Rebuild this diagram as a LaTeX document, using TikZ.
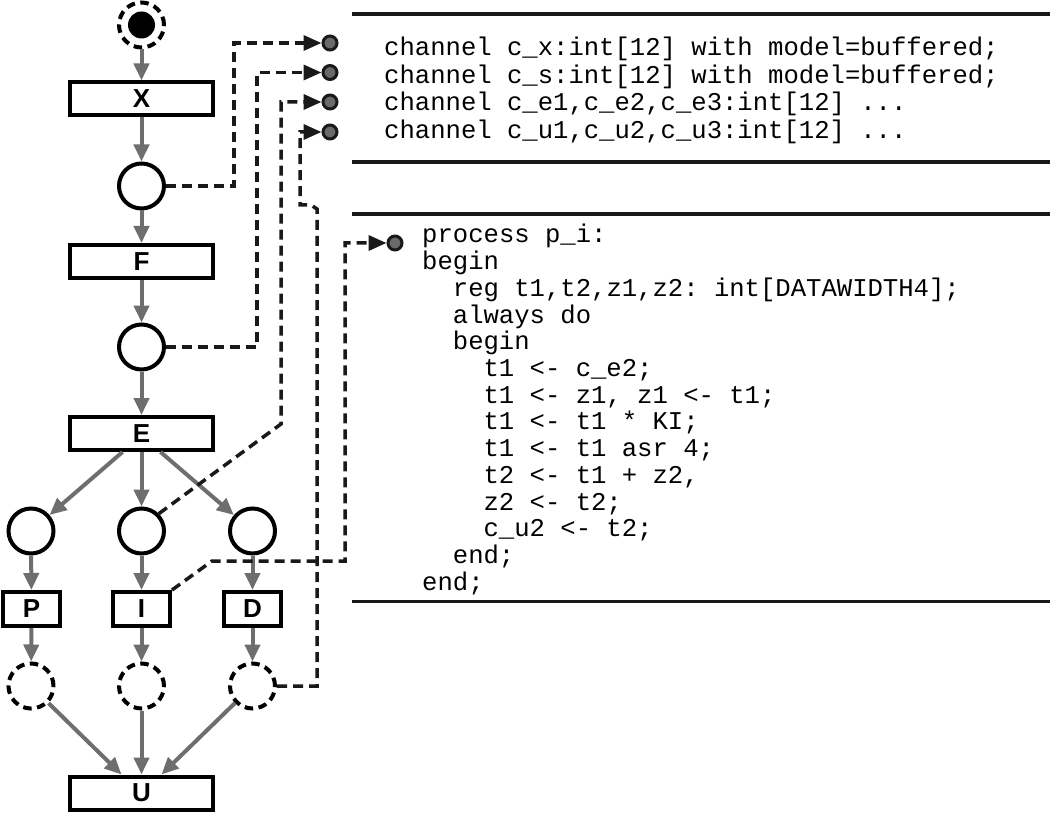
\documentclass[tikz,border=0pt]{standalone}
\usepackage{fontspec}
\setsansfont{Liberation Sans}
\setmonofont{Liberation Mono}
\usetikzlibrary{arrows.meta}
\definecolor{arrgray}{HTML}{6E6E6E}
\definecolor{dotgray}{HTML}{6A6A6A}
\tikzset{
  box/.style={draw, line width=4pt, minimum width=143pt, minimum height=33pt, inner sep=0pt,
    font=\sffamily\bfseries\fontsize{26}{26}\selectfont},
  sbox/.style={box, minimum width=57pt, minimum height=34pt},
  place/.style={circle, draw, line width=4pt, minimum size=45pt, inner sep=0pt},
  dplace/.style={place, dash pattern=on 8.5pt off 5.5pt},
  flow/.style={draw=arrgray, line width=4pt, -{Triangle[length=17pt,width=15pt]}},
  dcon/.style={draw=black!90, line width=3.5pt, dash pattern=on 10pt off 6pt, -{Triangle[length=18pt,width=15pt]}},
  port/.style={circle, draw=black!90, fill=dotgray, line width=3pt, minimum size=14pt, inner sep=0pt},
  code/.style={anchor=base west, inner sep=0pt, font=\ttfamily\fontsize{25.6}{26.7}\selectfont},
  rulebar/.style={draw=black!90, line width=3.5pt}
}
\begin{document}
\begin{tikzpicture}[x=1pt,y=-1pt]
\useasboundingbox (0,0) rectangle (1050,813);

% rules
\coordinate (r1a) at (352,14);  \coordinate (r1b) at (1050,14);
\coordinate (r2a) at (352,162); \coordinate (r2b) at (1050,162);
\coordinate (r3a) at (352,214); \coordinate (r3b) at (1050,214);
\coordinate (r4a) at (352,601); \coordinate (r4b) at (1050,601);
\draw[rulebar] (r1a) -- (r1b);
\draw[rulebar] (r2a) -- (r2b);
\draw[rulebar] (r3a) -- (r3b);
\draw[rulebar, line width=3pt] (r4a) -- (r4b);

% left net
\node[dplace] (start) at (141.5,25) {};
\node[circle, fill=black, minimum size=27pt, inner sep=0pt] (startdot) at (start.center) {};
\node[box] (X) at (141.5,99) {X};
\node[place] (c1) at (141.5,186) {};
\node[box] (F) at (141.5,261.5) {F};
\node[place] (c2) at (141.5,347) {};
\node[box] (E) at (141.5,433.5) {E};
\node[place] (cl) at (31,531) {};
\node[place] (cm) at (141.5,531) {};
\node[place] (cr) at (252.5,531) {};
\node[sbox] (P) at (31.5,609) {P};
\node[sbox] (I) at (141.5,609) {I};
\node[sbox] (D) at (252.5,609) {D};
\node[dplace] (dl) at (31,686) {};
\node[dplace] (dm) at (141.5,686) {};
\node[dplace] (dr) at (252.5,686) {};
\node[box] (U) at (141.5,793) {U};

\draw[flow] (start) -- (X);
\draw[flow] (X) -- (c1);
\draw[flow] (c1) -- (F);
\draw[flow] (F) -- (c2);
\draw[flow] (c2) -- (E);
\draw[flow] ([xshift=-19pt]E.south) -- (cl);
\draw[flow] (E) -- (cm);
\draw[flow] ([xshift=19pt]E.south) -- (cr);
\draw[flow] (cl) -- (P);
\draw[flow] (cm) -- (I);
\draw[flow] (cr) -- (D);
\draw[flow] (P) -- (dl);
\draw[flow] (I) -- (dm);
\draw[flow] (D) -- (dr);
\draw[flow] (dl) -- ([xshift=-20pt]U.north);
\draw[flow] (dm) -- (U);
\draw[flow] (dr) -- ([xshift=20pt]U.north);

% ports
\node[port] (d1) at (330,43) {};
\node[port] (d2) at (330,72.5) {};
\node[port] (d3) at (330,102) {};
\node[port] (d4) at (330,132) {};
\node[port] (d5) at (395,243) {};

% dashed connectors
\coordinate (j1) at (234,43);
\coordinate (j2) at (257,72.5);
\coordinate (j3a) at (281,424);
\coordinate (j3b) at (281,102);
\coordinate (j4a) at (317,209);
\coordinate (j4b) at (311,205);
\coordinate (j4c) at (300,205);
\coordinate (j4d) at (300,132);
\coordinate (j5a) at (212,561);
\coordinate (j5b) at (345,243);
\draw[dcon] (c1.east) -| (j1) -- (d1);
\draw[dcon] (c2.east) -| (j2) -- (d2);
\draw[dcon] (cm.north east) -- (j3a) -- (j3b) -- (d3);
\draw[dcon] (dr.east) -| (j4a) -- (j4b) -- (j4c) -- (j4d) -- (d4);
\draw[dcon] (I.north east) -- (j5a) -| (j5b) -- (d5);

% channel declarations
\node[code] (ch1) at (384,56) {channel c\_x:int[12] with model=buffered;};
\node[code] (ch2) at (384,83.4) {channel c\_s:int[12] with model=buffered;};
\node[code] (ch3) at (384,110.8) {channel c\_e1,c\_e2,c\_e3:int[12] ...};
\node[code] (ch4) at (384,138.2) {channel c\_u1,c\_u2,c\_u3:int[12] ...};

% process code
\node[code] (p1)  at (422,243)   {process p\_i:};
\node[code] (p2)  at (422,269.7) {begin};
\node[code] (p3)  at (452.7,296.4) {reg t1,t2,z1,z2: int[DATAWIDTH4];};
\node[code] (p4)  at (452.7,323.1) {always do};
\node[code] (p5)  at (452.7,349.8) {begin};
\node[code] (p6)  at (483.4,376.5) {t1 <- c\_e2;};
\node[code] (p7)  at (483.4,403.2) {t1 <- z1, z1 <- t1;};
\node[code] (p8)  at (483.4,429.9) {t1 <- t1 * KI;};
\node[code] (p9)  at (483.4,456.6) {t1 <- t1 asr 4;};
\node[code] (p10) at (483.4,483.3) {t2 <- t1 + z2,};
\node[code] (p11) at (483.4,510.0) {z2 <- t2;};
\node[code] (p12) at (483.4,536.7) {c\_u2 <- t2;};
\node[code] (p13) at (452.7,563.4) {end;};
\node[code] (p14) at (422,590.1) {end;};
\end{tikzpicture}
\end{document}
